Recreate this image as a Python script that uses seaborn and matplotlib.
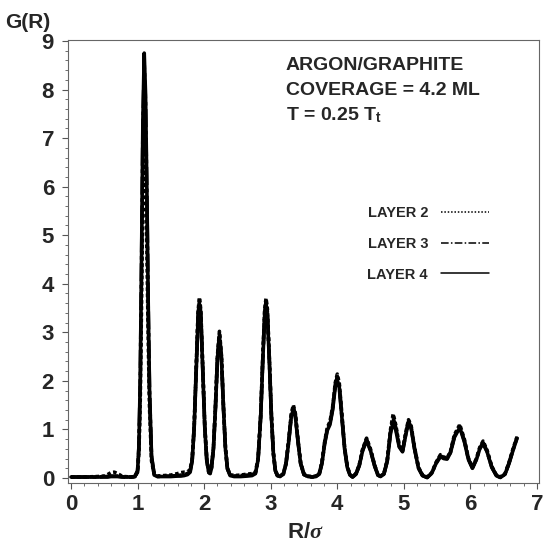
import numpy as np
import pandas as pd
import matplotlib
matplotlib.use("Agg")
import matplotlib.pyplot as plt
import seaborn as sns

# Pair distribution function G(R) for the top layers of an argon film on graphite
R = [0.00, 0.20, 0.40, 0.50, 0.55, 0.60, 0.65, 0.70, 0.75, 0.80, 0.90, 0.96,
     1.00, 1.02, 1.04, 1.06, 1.08, 1.10, 1.12, 1.14, 1.16, 1.18, 1.21, 1.25,
     1.30, 1.40, 1.50, 1.60, 1.65, 1.70, 1.75, 1.79,
     1.82, 1.85, 1.88, 1.91, 1.93, 1.95, 1.98, 2.01, 2.04, 2.07, 2.09, 2.11,
     2.14, 2.17, 2.20, 2.23, 2.26, 2.29, 2.32, 2.35, 2.39,
     2.45, 2.55, 2.65, 2.72, 2.77, 2.81, 2.85, 2.88, 2.91, 2.93, 2.95, 2.98,
     3.01, 3.04, 3.07, 3.10, 3.14,
     3.19, 3.23, 3.27, 3.31, 3.34, 3.37, 3.41, 3.45, 3.50, 3.56, 3.62, 3.68,
     3.73, 3.77, 3.81, 3.85, 3.89, 3.93, 3.97, 4.00, 4.03, 4.07, 4.11, 4.15,
     4.19, 4.23,
     4.28, 4.33, 4.38, 4.44, 4.50, 4.56, 4.61, 4.65,
     4.70, 4.75, 4.80, 4.84, 4.88, 4.93, 4.98, 5.03, 5.07, 5.11, 5.16, 5.22,
     5.28, 5.35,
     5.42, 5.48, 5.55, 5.60, 5.65, 5.70, 5.76, 5.84, 5.91, 5.97, 6.03, 6.09,
     6.14, 6.19, 6.25, 6.32, 6.39, 6.45, 6.52, 6.58, 6.64, 6.70]

g_layer2 = [0.02, 0.02, 0.03, 0.04, 0.07, 0.11, 0.12, 0.09, 0.05, 0.03, 0.02, 0.03,
            0.12, 0.52, 1.60, 3.65, 5.94, 6.98, 6.34, 4.72, 2.88, 1.44, 0.35, 0.08,
            0.04, 0.05, 0.06, 0.09, 0.11, 0.12, 0.12, 0.18,
            0.38, 1.06, 2.28, 3.45, 3.72, 3.45, 2.28, 1.06, 0.37, 0.13, 0.11, 0.22,
            0.62, 1.48, 2.52, 3.02, 2.52, 1.48, 0.62, 0.20, 0.07,
            0.05, 0.06, 0.08, 0.09, 0.12, 0.39, 1.31, 2.46, 3.48, 3.70, 3.48, 2.46,
            1.31, 0.52, 0.16, 0.06, 0.04,
            0.09, 0.31, 0.78, 1.33, 1.50, 1.33, 0.78, 0.31, 0.08, 0.04, 0.03, 0.04,
            0.10, 0.33, 0.74, 1.04, 1.16, 1.46, 1.96, 2.14, 1.95, 1.28, 0.63, 0.24,
            0.07, 0.03,
            0.09, 0.27, 0.59, 0.82, 0.59, 0.27, 0.07, 0.04,
            0.09, 0.37, 1.00, 1.32, 1.08, 0.68, 0.56, 0.95, 1.20, 1.07, 0.63, 0.22,
            0.06, 0.02,
            0.11, 0.31, 0.48, 0.43, 0.41, 0.55, 0.89, 1.10, 0.79, 0.41, 0.22, 0.40,
            0.63, 0.76, 0.57, 0.24, 0.06, 0.02, 0.09, 0.32, 0.60, 0.85]

g_layer3 = [0.02, 0.02, 0.02, 0.03, 0.03, 0.04, 0.04, 0.04, 0.03, 0.02, 0.02, 0.03,
            0.14, 0.63, 1.95, 4.45, 7.20, 8.50, 7.70, 5.75, 3.50, 1.75, 0.43, 0.07,
            0.03, 0.04, 0.04, 0.05, 0.06, 0.07, 0.09, 0.15,
            0.36, 1.04, 2.24, 3.39, 3.65, 3.39, 2.24, 1.04, 0.36, 0.12, 0.10, 0.21,
            0.61, 1.46, 2.49, 2.97, 2.49, 1.46, 0.61, 0.19, 0.06,
            0.04, 0.05, 0.06, 0.07, 0.10, 0.38, 1.29, 2.42, 3.42, 3.64, 3.42, 2.42,
            1.29, 0.51, 0.15, 0.05, 0.03,
            0.08, 0.30, 0.76, 1.30, 1.46, 1.30, 0.76, 0.30, 0.07, 0.03, 0.02, 0.03,
            0.09, 0.31, 0.72, 1.01, 1.13, 1.43, 1.92, 2.08, 1.90, 1.25, 0.61, 0.23,
            0.06, 0.02,
            0.08, 0.26, 0.57, 0.80, 0.57, 0.26, 0.06, 0.03,
            0.08, 0.35, 0.96, 1.24, 1.03, 0.66, 0.55, 0.92, 1.17, 1.04, 0.61, 0.21,
            0.05, 0.01,
            0.10, 0.30, 0.46, 0.41, 0.40, 0.53, 0.86, 1.07, 0.76, 0.39, 0.21, 0.39,
            0.61, 0.73, 0.55, 0.23, 0.05, 0.01, 0.08, 0.31, 0.58, 0.83]

g_layer4 = [0.02, 0.02, 0.02, 0.02, 0.02, 0.03, 0.03, 0.03, 0.02, 0.02, 0.02, 0.03,
            0.15, 0.65, 2.00, 4.55, 7.40, 8.75, 7.90, 5.90, 3.60, 1.80, 0.45, 0.06,
            0.03, 0.03, 0.03, 0.04, 0.04, 0.05, 0.07, 0.12,
            0.35, 1.02, 2.20, 3.32, 3.58, 3.33, 2.20, 1.02, 0.35, 0.11, 0.09, 0.20,
            0.60, 1.44, 2.45, 2.92, 2.45, 1.44, 0.60, 0.19, 0.05,
            0.03, 0.03, 0.04, 0.05, 0.09, 0.37, 1.27, 2.38, 3.36, 3.58, 3.36, 2.38,
            1.27, 0.50, 0.15, 0.05, 0.03,
            0.08, 0.29, 0.74, 1.27, 1.42, 1.27, 0.74, 0.29, 0.07, 0.03, 0.02, 0.03,
            0.08, 0.30, 0.70, 0.98, 1.10, 1.40, 1.88, 2.02, 1.86, 1.23, 0.60, 0.22,
            0.06, 0.02,
            0.08, 0.25, 0.56, 0.77, 0.56, 0.25, 0.06, 0.03,
            0.08, 0.34, 0.92, 1.16, 0.98, 0.64, 0.54, 0.90, 1.14, 1.02, 0.60, 0.20,
            0.05, 0.01,
            0.10, 0.29, 0.44, 0.40, 0.39, 0.52, 0.84, 1.04, 0.74, 0.38, 0.20, 0.38,
            0.60, 0.71, 0.54, 0.22, 0.05, 0.01, 0.08, 0.30, 0.57, 0.82]

layer_names = ["LAYER 2", "LAYER 3", "LAYER 4"]
x_ticks = [0, 1, 2, 3, 4, 5, 6, 7]
y_ticks = [0, 1, 2, 3, 4, 5, 6, 7, 8, 9]

frames = []
for name, g in zip(layer_names, [g_layer2, g_layer3, g_layer4]):
    frames.append(pd.DataFrame({"R": R, "G": g, "layer": name}))
df = pd.concat(frames, ignore_index=True)

sns.set_style("ticks")
plt.rcParams["font.family"] = ["Liberation Sans", "DejaVu Sans"]
plt.rcParams["font.weight"] = "bold"
plt.rcParams["mathtext.fontset"] = "custom"
plt.rcParams["mathtext.rm"] = "Liberation Sans:bold"
plt.rcParams["mathtext.bf"] = "Liberation Sans:bold"
plt.rcParams["mathtext.it"] = "Liberation Serif:italic"

fig = plt.figure(figsize=(5.46, 5.50), dpi=100)
ax = fig.add_axes([68 / 546, 1 - 483 / 550, 471 / 546, 443 / 550])

sns.lineplot(data=df, x="R", y="G", hue="layer", style="layer",
             palette={n: "black" for n in layer_names},
             dashes={"LAYER 2": (1, 0.7), "LAYER 3": (5, 1.0, 1, 1.0), "LAYER 4": ""},
             linewidth=2.6, sort=False, estimator=None, ax=ax, legend=True)

ax.set_xlim(-0.045, 7.03)
ax.set_ylim(-0.103, 9.02)
ax.set_xticks(x_ticks)
ax.set_yticks(y_ticks)
ax.set_xticks(np.arange(0, 7.01, 0.2), minor=True)
ax.set_yticks(np.arange(0, 9.01, 0.2), minor=True)
ax.set_xlabel("")
ax.set_ylabel("")
for lab in ax.get_xticklabels() + ax.get_yticklabels():
    lab.set_fontsize(16)
    lab.set_fontweight("bold")
ax.tick_params(which="major", direction="out", length=4, width=0.8, color="#555555", pad=4)
ax.tick_params(which="minor", direction="out", length=2.5, width=0.6, color="#555555")
ax.tick_params(axis="y", which="major", pad=6)
for sp in ax.spines.values():
    sp.set_visible(True)
    sp.set_linewidth(0.8)
    sp.set_color("#666666")

leg = ax.legend(frameon=False, markerfirst=False, loc="upper left",
                bbox_to_anchor=(0.608, 0.655), fontsize=10.5,
                handlelength=3.3, handletextpad=0.9, labelspacing=1.15)
legend_styles = [(0, (1, 1.2)), (0, (5, 1.5, 1, 1.5)), "-"]
for line, ls in zip(leg.get_lines(), legend_styles):
    line.set_linewidth(1.1)
    line.set_linestyle(ls)
for t in leg.get_texts():
    t.set_fontweight("bold")

fig.text(5 / 546, 1 - 28 / 550, "G(R)", fontsize=15, fontweight="bold", ha="left", va="baseline")
fig.text(286 / 546, 1 - 70 / 550, "ARGON/GRAPHITE", fontsize=14, fontweight="bold", va="baseline")
fig.text(286 / 546, 1 - 95 / 550, "COVERAGE = 4.2 ML", fontsize=14, fontweight="bold", va="baseline")
fig.text(286 / 546, 1 - 120 / 550, r"T = 0.25 $\mathbf{T}_{\mathbf{t}}$", fontsize=14,
         fontweight="bold", va="baseline")
fig.text(305 / 546, 1 - 538 / 550, r"$\mathbf{R}/\sigma$", fontsize=16, ha="center", va="baseline")

fig.savefig("out.png", dpi=100)
